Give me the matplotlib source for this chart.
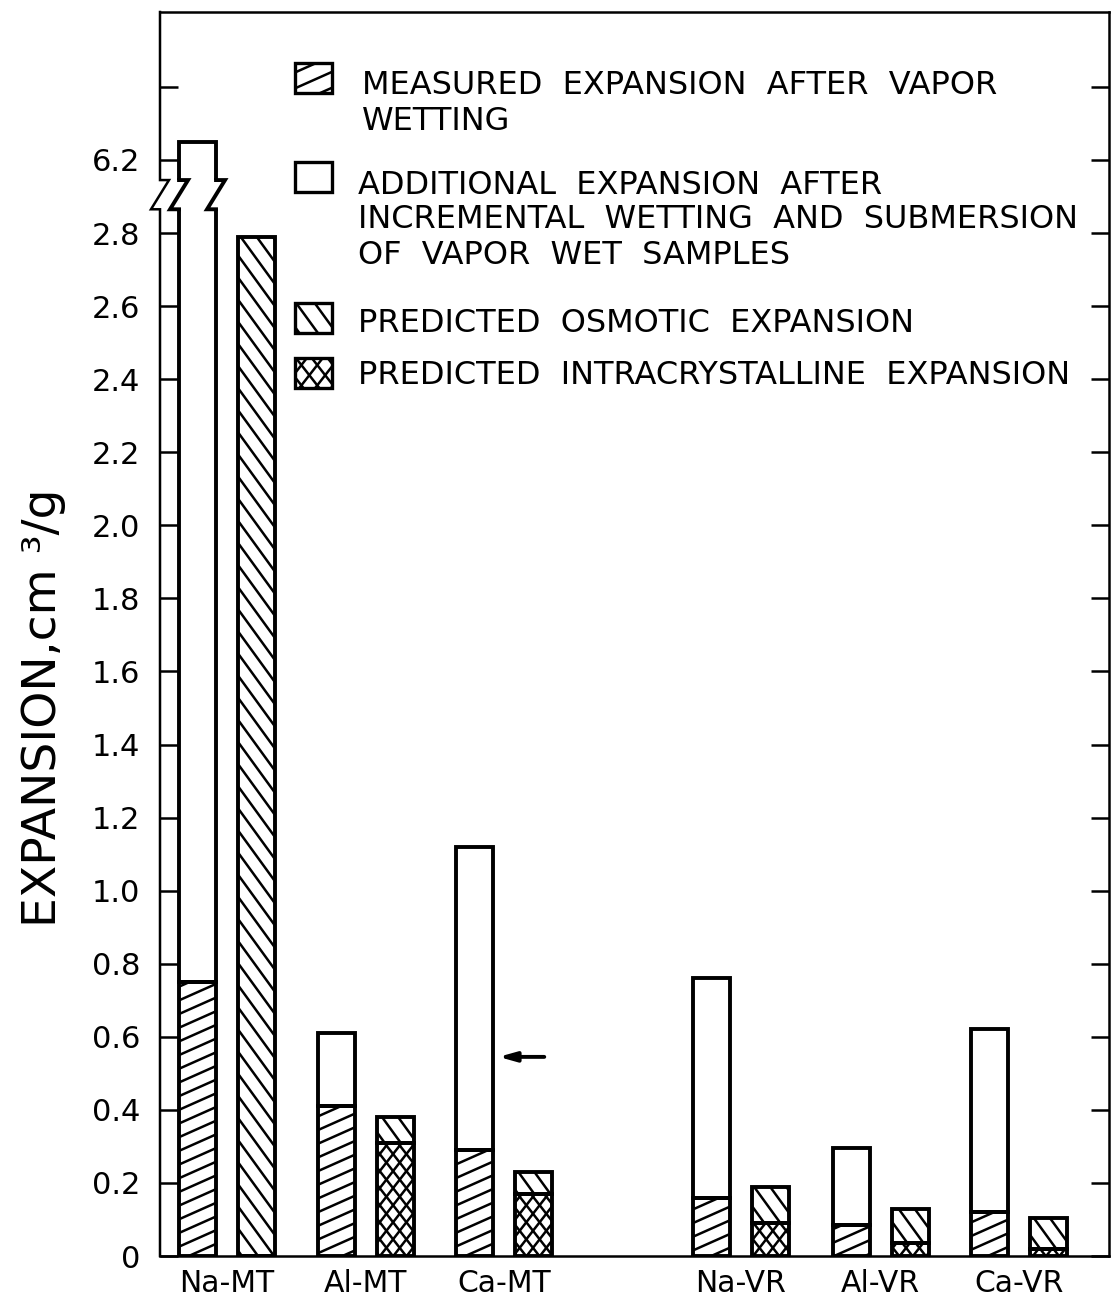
import numpy as np
import matplotlib
matplotlib.use("Agg")
import matplotlib.pyplot as plt
from matplotlib.collections import LineCollection
from matplotlib.transforms import IdentityTransform
from matplotlib.patches import Rectangle

# ---------------- data ----------------
groups = ["Na-MT", "Al-MT", "Ca-MT", "Na-VR", "Al-VR", "Ca-VR"]
measured_vapor = [0.75, 0.41, 0.29, 0.16, 0.085, 0.12]          # hatched '/'
total_after_submersion = [6.25, 0.61, 1.12, 0.76, 0.295, 0.62]  # top of open bar
predicted_intracrystalline = [0.0, 0.31, 0.17, 0.09, 0.035, 0.02]
predicted_total = [2.79, 0.38, 0.23, 0.19, 0.13, 0.105]          # intra + osmotic
arrow_level = 0.545                                               # arrow on Ca-MT
ytick_values = [0, 0.2, 0.4, 0.6, 0.8, 1.0, 1.2, 1.4, 1.6, 1.8, 2.0, 2.2, 2.4, 2.6, 2.8, 6.2, 6.4]
ytick_labels = ["0", "0.2", "0.4", "0.6", "0.8", "1.0", "1.2", "1.4", "1.6", "1.8",
                "2.0", "2.2", "2.4", "2.6", "2.8", "6.2", ""]
legend_labels = [
    ["MEASURED  EXPANSION  AFTER  VAPOR", "WETTING"],
    ["ADDITIONAL  EXPANSION  AFTER", "INCREMENTAL  WETTING  AND  SUBMERSION",
     "OF  VAPOR  WET  SAMPLES"],
    ["PREDICTED  OSMOTIC  EXPANSION"],
    ["PREDICTED  INTRACRYSTALLINE  EXPANSION"],
]

# ---------------- broken axis mapping ----------------
BREAK_FROM, BREAK_TO = 2.9, 6.2     # values above BREAK_FROM are shifted down
SHIFT = BREAK_TO - 3.0


def disp(v):
    v = np.asarray(v, dtype=float)
    return np.where(v > BREAK_FROM, v - SHIFT, v)


# ---------------- layout ----------------
W, H = 1111, 1299
fig = plt.figure(figsize=(W / 100, H / 100), dpi=100)
AX_L, AX_R, AX_T, AX_B = 160, 1109, 12, 1256
ax = fig.add_axes([AX_L / W, (H - AX_B) / H, (AX_R - AX_L) / W, (AX_B - AX_T) / H])

pos = np.array([0, 1, 2, 3.71, 4.72, 5.72])
off = 0.213
bw = 0.267
ax.set_xlim(-0.484, 6.368)
ax.set_ylim(0, 3.405)

for s in ax.spines.values():
    s.set_linewidth(1.8)
ax.spines["left"].set_visible(False)

LW_BAR = 2.8
LW_H = 1.8


def hatch(patch, angles, spacing, lw=LW_H, z=2.6):
    bb = patch.get_extents()
    cx, cy = (bb.x0 + bb.x1) / 2, (bb.y0 + bb.y1) / 2
    R = np.hypot(bb.width, bb.height) / 2 + spacing
    segs = []
    for a in angles:
        t = np.deg2rad(a)
        d = np.array([np.cos(t), np.sin(t)])
        n = np.array([-np.sin(t), np.cos(t)])
        c0 = cx * n[0] + cy * n[1]
        for k in np.arange(np.floor((c0 - R) / spacing), np.ceil((c0 + R) / spacing) + 1):
            p = np.array([cx, cy]) + n * (k * spacing - c0)
            segs.append([p - d * R, p + d * R])
    lc = LineCollection(segs, colors="black", linewidths=lw,
                        transform=IdentityTransform(), zorder=z)
    ax.add_collection(lc, autolim=False)
    lc.set_clip_path(patch)


MEAS = dict(angles=[24], spacing=12.5)
OSMO = dict(angles=[-54], spacing=13)
INTRA = dict(angles=[52, -52], spacing=10.5)

meas = np.array(measured_vapor)
tot = disp(total_after_submersion)
intra = np.array(predicted_intracrystalline)
ptot = disp(predicted_total)

kw = dict(width=bw, facecolor="none", edgecolor="black", linewidth=LW_BAR, zorder=3)
b_meas = ax.bar(pos - off, meas, **kw)
b_add = ax.bar(pos - off, tot - meas, bottom=meas, **kw)
b_intra = ax.bar(pos + off, intra, **kw)
b_osmo = ax.bar(pos + off, ptot - intra, bottom=intra, **kw)

fig.canvas.draw()
for p in b_meas:
    hatch(p, **MEAS)
for p in b_intra:
    if p.get_height() > 0:
        hatch(p, **INTRA)
for p in b_osmo:
    hatch(p, **OSMO)

# ---------------- axis break ----------------
yb, ya = 2.865, 2.945
jx = 9 / 138.5          # jog in data-x units (~9 px)
ytr = ax.get_yaxis_transform()
ja = 9 / (AX_R - AX_L)
ax.plot([0, 0, -ja, ja, 0, 0], [0, yb, yb, ya, ya, 3.405], color="black",
        lw=1.8, transform=ytr, clip_on=False, zorder=5, solid_joinstyle="miter")
big = b_add[0]
xl, xr = big.get_x(), big.get_x() + big.get_width()
ax.add_patch(Rectangle((xl - 1.5 * jx, yb), (xr - xl) + 3 * jx, ya - yb,
                       facecolor="white", edgecolor="none", zorder=4))
for e in (xl, xr):
    ax.plot([e, e - jx, e + jx, e], [yb, yb, ya, ya], color="black", lw=LW_BAR,
            zorder=5, solid_joinstyle="miter")

# ---------------- ticks ----------------
ax.set_yticks(disp(ytick_values))
ax.set_yticklabels(ytick_labels)
ax.tick_params(axis="y", direction="in", length=13, width=1.8, left=True, right=True,
               labelsize=22, pad=14)
ax.set_xticks(pos)
ax.set_xticklabels(groups)
ax.tick_params(axis="x", length=0, labelsize=21.5, pad=9)

fig.text(44 / W, 1 - 708 / H, "EXPANSION,cm ³/g", rotation=90, ha="center", va="center",
         fontsize=34)

# ---------------- arrow ----------------
ca = b_add[2]
head_x = ca.get_x() + ca.get_width() + 0.04
ax.annotate("", xy=(head_x, arrow_level), xytext=(head_x + 0.33, arrow_level),
            arrowprops=dict(arrowstyle="-|>,head_length=1.0,head_width=0.28",
                            lw=2.8, color="black", shrinkA=0, shrinkB=0), zorder=5)


# ---------------- legend (manual) ----------------
def axf(xp, yp):
    return ((xp - AX_L) / (AX_R - AX_L), (AX_B - yp) / (AX_B - AX_T))


box_tops = [63, 162, 303, 358]
line_y = [[83, 118], [183, 217, 253], [320], [373]]
text_x = [362, 358, 358, 358]
box_styles = [MEAS, None, OSMO, INTRA]
CAP = 11.5
for top, ys, tx, labs, st in zip(box_tops, line_y, text_x, legend_labels, box_styles):
    x0, y0 = axf(295, top + 30)
    x1, y1 = axf(332, top)
    r = Rectangle((x0, y0), x1 - x0, y1 - y0, transform=ax.transAxes, facecolor="none",
                  edgecolor="black", linewidth=2.4, zorder=3)
    ax.add_patch(r)
    if st is not None:
        hatch(r, angles=st["angles"], spacing=st["spacing"] + 2)
    for yy, lab in zip(ys, labs):
        fx, fy = axf(tx, yy + CAP)
        ax.text(fx, fy, lab, transform=ax.transAxes, ha="left", va="baseline", fontsize=23)

fig.savefig("out.png", dpi=100)
